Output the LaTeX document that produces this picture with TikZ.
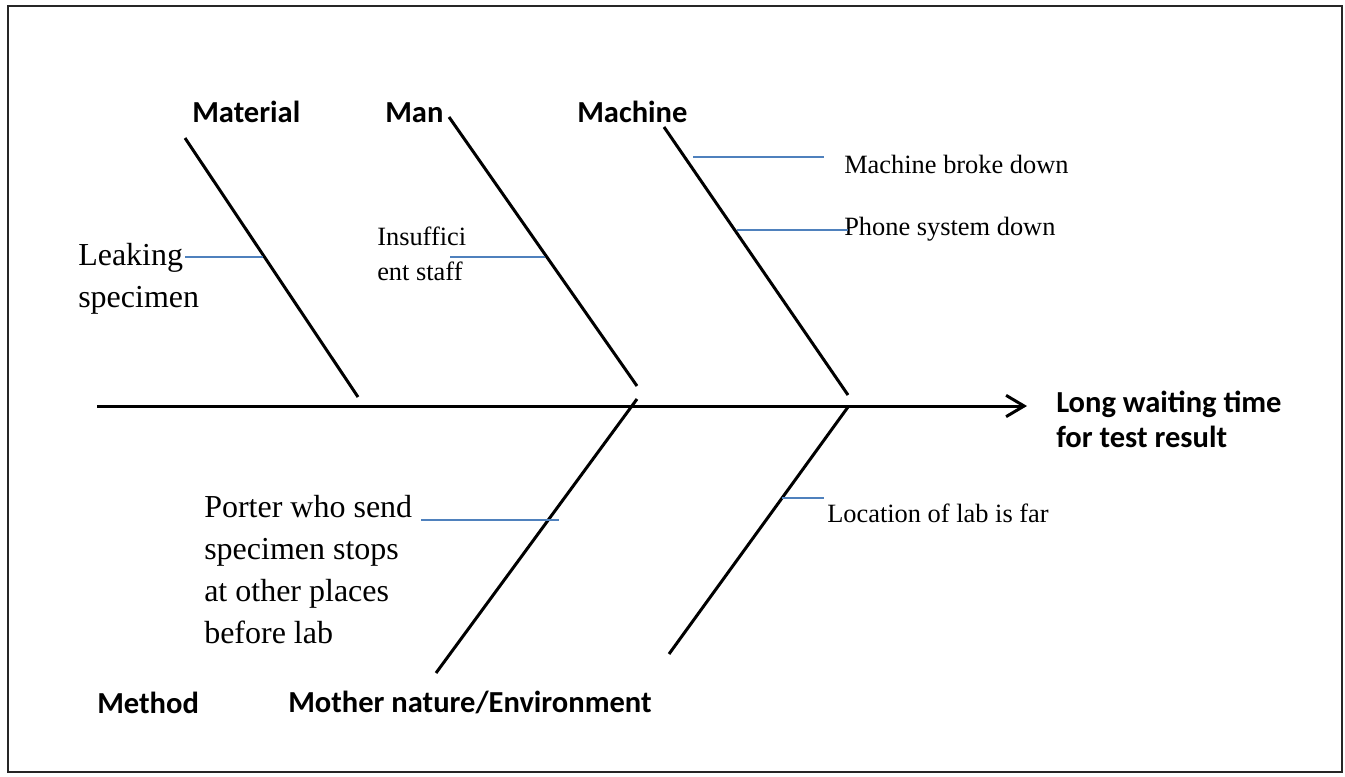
\documentclass[tikz,border=0pt]{standalone}
\usepackage{fontspec}
\setmainfont{Liberation Serif}
\newfontfamily\labelfont{Carlito}
\usetikzlibrary{arrows.meta}
\definecolor{twigblue}{HTML}{4F81BD}

\begin{document}
\begin{tikzpicture}[x=0.75pt,y=-0.75pt,
  bone/.style={line width=2.25pt},
  twig/.style={draw=twigblue, line width=1.2pt},
  % multi-line nodes: the base anchor sits on the last line
  category/.style={font=\labelfont\bfseries\fontsize{22.9}{26.25}\selectfont,
    anchor=base west, inner sep=0pt, align=left},
  causebig/.style={font=\fontsize{24}{31.5}\selectfont,
    anchor=base west, inner sep=0pt, align=left},
  causesmall/.style={font=\fontsize{19.8}{26.25}\selectfont,
    anchor=base west, inner sep=0pt, align=left},
]
% page and frame
\useasboundingbox (0,0) rectangle (1345,776);
\draw[line width=1.9pt, draw=black!85] (8,6) rectangle (1342,772);

% spine and effect
\coordinate (tail) at (97,406);
\coordinate (head) at (1027,406);
\draw[bone, -{Straight Barb[length=13.5pt,width=16pt,line width=2.25pt]}] (tail) -- (head);
\node[category] (effect) at (1056,447) {Long waiting time\\for test result};

% upper bones
\coordinate (matTop) at (185,138);  \coordinate (matEnd) at (358,397);
\coordinate (manTop) at (449,117);  \coordinate (manEnd) at (637,386);
\coordinate (macTop) at (664,127);  \coordinate (macEnd) at (848,395);
\draw[bone] (matTop) -- (matEnd);
\draw[bone] (manTop) -- (manEnd);
\draw[bone] (macTop) -- (macEnd);

% lower bones
\coordinate (metTop) at (637,399);  \coordinate (metEnd) at (436,673);
\coordinate (envTop) at (848,407);  \coordinate (envEnd) at (669,654);
\draw[bone] (metTop) -- (metEnd);
\draw[bone] (envTop) -- (envEnd);

% category labels
\node[category] (material) at (192,122) {Material};
\node[category] (man)      at (385,122) {Man};
\node[category] (machine)  at (577,122) {Machine};
\node[category] (method)   at (97,713)  {Method};
\node[category] (mother)   at (288,712) {Mother nature/Environment};

% causes
\node[causebig] (leak) at (78,307) {Leaking\\specimen};
\coordinate (leakA) at (185,257);
\coordinate (leakBone) at (263,257);
\draw[twig] (leakA) -- (leakBone);

\node[causesmall] (staff) at (377,280) {Insuffici\\ent staff};
\coordinate (staffA) at (450,257);
\coordinate (staffBone) at (545,257);
\draw[twig] (staffA) -- (staffBone);

\node[causesmall] (broke) at (844,173) {Machine broke down};
\coordinate (brokeBone) at (693,157);
\coordinate (brokeEnd) at (824,157);
\draw[twig] (brokeBone) -- (brokeEnd);

\node[causesmall] (phone) at (844,235) {Phone system down};
\coordinate (phoneBone) at (737,230);
\coordinate (phoneEnd) at (848,230);
\draw[twig] (phoneBone) -- (phoneEnd);

\node[causebig] (porter) at (204,643) {Porter who send\\specimen stops\\at other places\\before lab};
\coordinate (porterA) at (421,520);
\coordinate (porterBone) at (559,520);
\draw[twig] (porterA) -- (porterBone);

\node[causesmall] (far) at (827,522) {Location of lab is far};
\coordinate (farBone) at (782,498);
\coordinate (farEnd) at (824,498);
\draw[twig] (farBone) -- (farEnd);
\end{tikzpicture}
\end{document}
